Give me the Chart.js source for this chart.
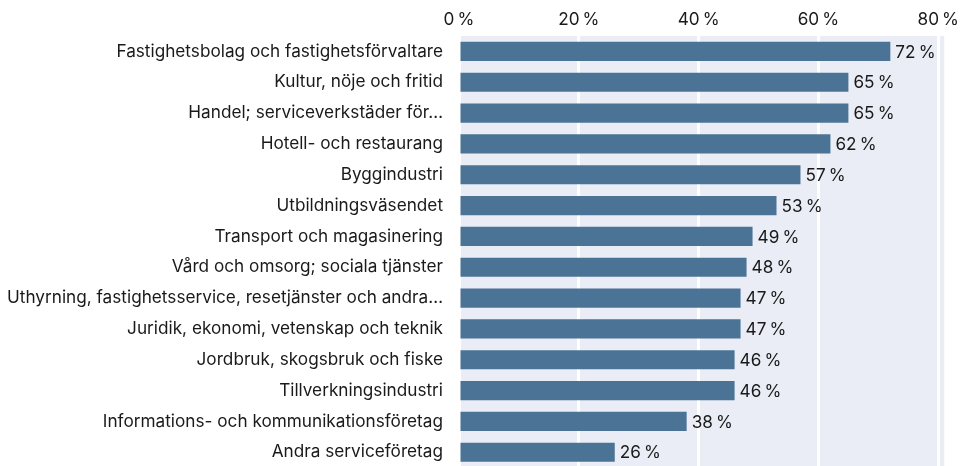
<!DOCTYPE html>
<html>
<head>
<meta charset="utf-8">
<script src="https://cdn.jsdelivr.net/npm/chart.js@4"></script>
<style>
  html, body { margin: 0; padding: 0; background: #fff; overflow: hidden; }
  #wrap { width: 965px; height: 494px; }
</style>
</head>
<body>
<div id="wrap"><canvas id="bransch"></canvas></div>
<script>
// Andel per bransch
const branscher = [
  "Fastighetsbolag och fastighetsförvaltare",
  "Kultur, nöje och fritid",
  "Handel; serviceverkstäder för…",
  "Hotell- och restaurang",
  "Byggindustri",
  "Utbildningsväsendet",
  "Transport och magasinering",
  "Vård och omsorg; sociala tjänster",
  "Uthyrning, fastighetsservice, resetjänster och andra…",
  "Juridik, ekonomi, vetenskap och teknik",
  "Jordbruk, skogsbruk och fiske",
  "Tillverkningsindustri",
  "Informations- och kommunikationsföretag",
  "Andra serviceföretag"
];
const andel = [72, 65, 65, 62, 57, 53, 49, 48, 47, 47, 46, 46, 38, 26];
const xTicks = [0, 20, 40, 60, 80];

const FONT = "Inter, 'Noto Sans', sans-serif";

// bakgrund i plotytan
const plotBg = {
  id: 'plotBg',
  beforeDraw(chart) {
    const { ctx, chartArea: a } = chart;
    ctx.save();
    ctx.fillStyle = '#eaedf5';
    ctx.fillRect(a.left, a.top, a.right - a.left, a.bottom - a.top);
    ctx.restore();
  }
};

// värden vid stapelns slut
const barLabels = {
  id: 'barLabels',
  afterDatasetsDraw(chart) {
    const ctx = chart.ctx;
    const meta = chart.getDatasetMeta(0);
    ctx.save();
    ctx.font = '17.2px ' + FONT;
    ctx.fillStyle = '#1a1a1a';
    ctx.textAlign = 'left';
    ctx.textBaseline = 'middle';
    meta.data.forEach((bar, i) => {
      ctx.fillText(andel[i] + '\u2009%', bar.x + 5, bar.y + 1);
    });
    ctx.restore();
  }
};

new Chart(document.getElementById('bransch'), {
  type: 'bar',
  data: {
    labels: branscher,
    datasets: [{
      data: andel,
      backgroundColor: '#4a7396',
      barPercentage: 0.62,
      categoryPercentage: 1
    }]
  },
  options: {
    indexAxis: 'y',
    responsive: true,
    maintainAspectRatio: false,
    animation: false,
    layout: { padding: 0 },
    plugins: {
      legend: { display: false },
      tooltip: { enabled: false }
    },
    scales: {
      x: {
        position: 'top',
        min: 0,
        max: 81,
        afterBuildTicks(scale) {
          scale.ticks = xTicks.map(v => ({ value: v }));
        },
        afterFit(scale) { scale.height = 36; },
        grid: { color: '#ffffff', lineWidth: 3, drawTicks: false },
        border: { display: false },
        ticks: {
          padding: 6,
          color: '#1a1a1a',
          font: { family: FONT, size: 17.2 },
          callback: v => v + '\u2009%'
        }
      },
      y: {
        afterFit(scale) { scale.width = 459; },
        grid: { display: false, drawTicks: false },
        border: { display: false },
        ticks: {
          padding: 16,
          color: '#1a1a1a',
          font: { family: FONT, size: 17.2 },
          autoSkip: false
        }
      }
    }
  },
  plugins: [plotBg, barLabels]
});
</script>
</body>
</html>
